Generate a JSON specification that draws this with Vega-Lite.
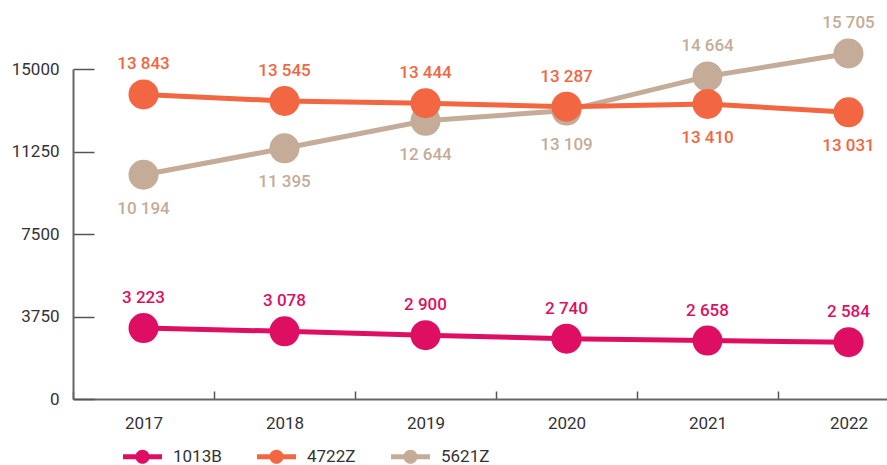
{
  "$schema": "https://vega.github.io/schema/vega-lite/v6.json",
  "width": 814,
  "height": 330,
  "autosize": {"type": "none"},
  "padding": {"left": 73, "top": 69, "right": 0, "bottom": 66},
  "config": {
    "view": {"stroke": null},
    "font": "Roboto",
    "locale": {"number": {"decimal": ".", "thousands": " ", "grouping": [3], "currency": ["", ""]}},
    "axis": {"grid": false, "title": null, "labelFont": "Roboto", "labelFontSize": 17, "labelColor": "#333333", "domainColor": "#666666", "domainWidth": 2, "tickColor": "#555555", "tickWidth": 1.5}
  },
  "data": {"values": [
    {"series": "5621Z", "year": 2017, "value": 10194},
    {"series": "5621Z", "year": 2018, "value": 11395},
    {"series": "5621Z", "year": 2019, "value": 12644},
    {"series": "5621Z", "year": 2020, "value": 13109},
    {"series": "5621Z", "year": 2021, "value": 14664},
    {"series": "5621Z", "year": 2022, "value": 15705},
    {"series": "4722Z", "year": 2017, "value": 13843},
    {"series": "4722Z", "year": 2018, "value": 13545},
    {"series": "4722Z", "year": 2019, "value": 13444},
    {"series": "4722Z", "year": 2020, "value": 13287},
    {"series": "4722Z", "year": 2021, "value": 13410},
    {"series": "4722Z", "year": 2022, "value": 13031},
    {"series": "1013B", "year": 2017, "value": 3223},
    {"series": "1013B", "year": 2018, "value": 3078},
    {"series": "1013B", "year": 2019, "value": 2900},
    {"series": "1013B", "year": 2020, "value": 2740},
    {"series": "1013B", "year": 2021, "value": 2658},
    {"series": "1013B", "year": 2022, "value": 2584}
  ]},
  "encoding": {
    "x": {
      "field": "year", "type": "ordinal",
      "scale": {"type": "band", "range": [0, 846], "paddingInner": 0, "paddingOuter": 0},
      "axis": {"labelAngle": 0, "tickBand": "extent", "tickSize": -8, "labelPadding": 24}
    },
    "y": {
      "field": "value", "type": "quantitative",
      "scale": {"domain": [0, 15000], "nice": false, "zero": true},
      "axis": {"values": [0, 3750, 7500, 11250, 15000], "format": "d", "tickSize": -21, "labelPadding": 35}
    },
    "color": {"field": "series", "type": "nominal",
      "scale": {"domain": ["1013B", "4722Z", "5621Z"], "range": ["#DE0F62", "#F26641", "#C4AC98"]},
      "legend": {
        "title": null, "orient": "bottom", "direction": "horizontal", "offset": -44, "padding": 50,
        "symbolType": "M-1,-0.13H1V0.13H-1Z M0.36,0 A0.36,0.36 0 1,1 -0.36,0 A0.36,0.36 0 1,1 0.36,0 Z",
        "symbolSize": 1521, "symbolStrokeWidth": 0, "symbolOpacity": 1, "labelFontSize": 17, "labelColor": "#333333",
        "labelFont": "Roboto", "labelOffset": 11, "columnPadding": 35,
        "encode": {"symbols": {"update": {"fill": {"scale": "color", "field": "value"}, "strokeWidth": {"value": 0}}}}
      }
    }
  },
  "layer": [
    {
      "mark": {"type": "line", "strokeWidth": 5, "clip": false}
    },
    {
      "mark": {"type": "point", "filled": true, "size": 900, "opacity": 1, "clip": false}
    },
    {
      "transform": [{"filter": "datum.series == '1013B' || (datum.series == '4722Z' && datum.year <= 2020) || (datum.series == '5621Z' && datum.year >= 2021)"}],
      "mark": {"type": "text", "dy": -30, "fontSize": 17, "fontWeight": 500, "baseline": "middle", "clip": false},
      "encoding": {
        "text": {"field": "value", "type": "quantitative", "format": ",d"}
      }
    },
    {
      "transform": [{"filter": "!(datum.series == '1013B' || (datum.series == '4722Z' && datum.year <= 2020) || (datum.series == '5621Z' && datum.year >= 2021))"}],
      "mark": {"type": "text", "dy": 34, "fontSize": 17, "fontWeight": 500, "baseline": "middle", "clip": false},
      "encoding": {
        "text": {"field": "value", "type": "quantitative", "format": ",d"}
      }
    }
  ]
}
